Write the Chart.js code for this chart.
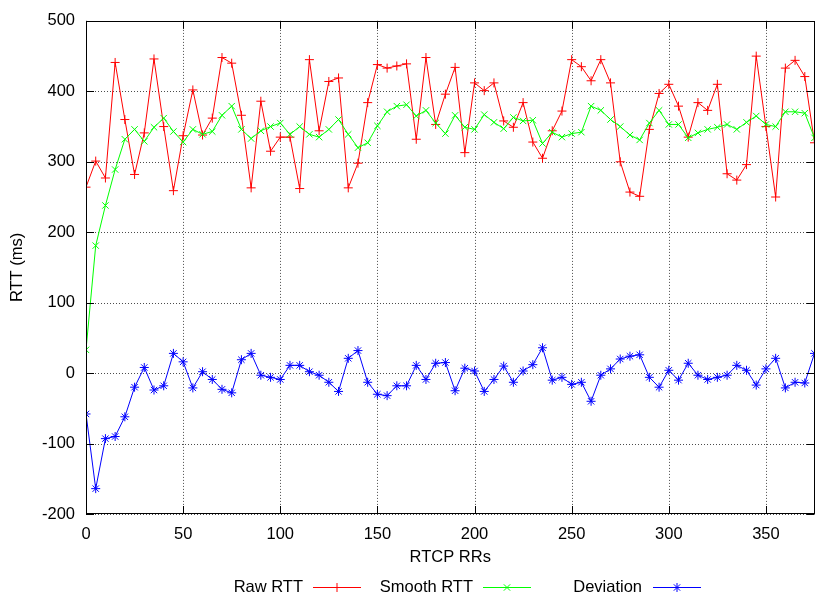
<!DOCTYPE html>
<html>
<head>
<meta charset="utf-8">
<script src="https://cdn.jsdelivr.net/npm/chart.js@4.4.1/dist/chart.umd.min.js"></script>
<style>
  html, body { margin: 0; padding: 0; background: #fff; }
  #wrap { width: 820px; height: 596px; }
</style>
</head>
<body>
<div id="wrap"><canvas id="rttChart" width="820" height="596"></canvas></div>
<script>
// RTCP RR sample index (x axis)
const rrIndex = [
  0, 5, 10, 15, 20, 25, 30, 35, 40, 45, 50, 55, 60, 65, 70, 75, 80, 85, 90, 95,
  100, 105, 110, 115, 120, 125, 130, 135, 140, 145, 150, 155, 160, 165, 170, 175, 180, 185, 190, 195,
  200, 205, 210, 215, 220, 225, 230, 235, 240, 245, 250, 255, 260, 265, 270, 275, 280, 285, 290, 295,
  300, 305, 310, 315, 320, 325, 330, 335, 340, 345, 350, 355, 360, 365, 370, 375
];

const rawRtt = [
  264, 301, 277, 441, 360, 282, 341, 446, 350, 259, 337, 402, 338, 362, 448, 440, 366, 263, 386, 315,
  335, 335, 262, 445, 344, 414, 419, 263, 298, 384, 438, 433, 436, 439, 332, 448, 353, 396, 434, 313,
  412, 401, 412, 358, 349, 384, 328, 305, 344, 372, 445, 435, 415, 445, 412, 300, 257, 251, 346, 397,
  410, 379, 335, 384, 373, 410, 283, 274, 296, 450, 350, 250, 433, 444, 421, 327
];

const smoothRtt = [
  33, 181, 238, 289, 332, 346, 329, 349, 362, 343, 328, 346, 339, 343, 366, 379, 346, 333, 344, 350,
  355, 339, 350, 339, 335, 346, 360, 339, 320, 327, 351, 371, 379, 381, 365, 373, 355, 340, 366, 349,
  346, 367, 356, 347, 363, 358, 359, 326, 342, 335, 340, 342, 379, 373, 360, 350, 338, 331, 355, 373,
  353, 353, 334, 341, 346, 349, 353, 346, 356, 365, 353, 350, 371, 371, 369, 334
];

const deviation = [
  -58, -164, -93, -90, -62, -20, 8, -24, -18, 28, 16, -21, 2, -9, -23, -28, 19, 28, -3, -6,
  -9, 11, 11, 2, -3, -13, -26, 21, 32, -13, -30, -32, -18, -18, 11, -9, 14, 15, -25, 7,
  3, -26, -9, 10, -13, 3, 12, 36, -10, -6, -16, -13, -40, -3, 6, 20, 24, 26, -6, -20,
  4, -10, 14, -3, -9, -6, -3, 11, 4, -17, 6, 21, -21, -13, -14, 28
];

const xTicks = [0, 50, 100, 150, 200, 250, 300, 350];
const yTicks = [-200, -100, 0, 100, 200, 300, 400, 500];

const FONT = { family: '"Liberation Sans", Arial, Helvetica, sans-serif', size: 16.5 };

function toPoints(values) {
  return values.map((v, i) => ({ x: rrIndex[i], y: v }));
}

// dotted grid (gnuplot lt 0) under the data
const dottedGrid = {
  id: 'dottedGrid',
  beforeDatasetsDraw(chart) {
    const { ctx, chartArea: a, scales } = chart;
    ctx.save();
    ctx.strokeStyle = 'rgba(0,0,0,0.7)';
    ctx.lineWidth = 1;
    ctx.setLineDash([1, 2]);
    ctx.beginPath();
    xTicks.forEach((v) => {
      const px = Math.round(scales.x.getPixelForValue(v)) + 0.5;
      ctx.moveTo(px, a.top);
      ctx.lineTo(px, a.bottom);
    });
    yTicks.forEach((v) => {
      const py = Math.round(scales.y.getPixelForValue(v)) + 0.5;
      ctx.moveTo(a.left, py);
      ctx.lineTo(a.right, py);
    });
    ctx.stroke();
    ctx.restore();
  },
};

// gnuplot style frame with inward ticks on all four sides
const framePlugin = {
  id: 'frame',
  afterDatasetsDraw(chart) {
    const { ctx, chartArea: a, scales } = chart;
    const tick = 8;
    ctx.save();
    ctx.strokeStyle = '#000';
    ctx.lineWidth = 1;
    ctx.beginPath();
    xTicks.forEach((v) => {
      const px = Math.round(scales.x.getPixelForValue(v)) + 0.5;
      ctx.moveTo(px, a.bottom);
      ctx.lineTo(px, a.bottom - tick);
      ctx.moveTo(px, a.top);
      ctx.lineTo(px, a.top + tick);
    });
    yTicks.forEach((v) => {
      const py = Math.round(scales.y.getPixelForValue(v)) + 0.5;
      ctx.moveTo(a.left, py);
      ctx.lineTo(a.left + tick, py);
      ctx.moveTo(a.right, py);
      ctx.lineTo(a.right - tick, py);
    });
    ctx.stroke();
    ctx.strokeRect(Math.round(a.left) + 0.5, Math.round(a.top) + 0.5,
      Math.round(a.right - a.left) - 1, Math.round(a.bottom - a.top) - 1);
    ctx.restore();
  },
};

// key below the plot: label first, then line sample with marker
const keyPlugin = {
  id: 'bottomKey',
  afterDraw(chart) {
    const { ctx } = chart;
    const y = 587;
    const slots = [
      { textEnd: 303, lineStart: 313 },
      { textEnd: 473, lineStart: 483 },
      { textEnd: 642, lineStart: 653 },
    ];
    ctx.save();
    ctx.font = `${FONT.size}px ${FONT.family}`;
    ctx.textAlign = 'right';
    ctx.textBaseline = 'middle';
    chart.data.datasets.forEach((ds, i) => {
      const s = slots[i];
      ctx.fillStyle = '#000';
      ctx.fillText(ds.label, s.textEnd, y);
      ctx.strokeStyle = ds.borderColor;
      ctx.lineWidth = 1;
      ctx.beginPath();
      ctx.moveTo(s.lineStart, y + 0.5);
      ctx.lineTo(s.lineStart + 48, y + 0.5);
      ctx.stroke();
      Chart.helpers.drawPoint(ctx, {
        pointStyle: ds.pointStyle,
        radius: ds.pointRadius,
        borderWidth: 1,
        rotation: 0,
      }, s.lineStart + 24, y + 0.5);
    });
    ctx.restore();
  },
};

new Chart(document.getElementById('rttChart'), {
  type: 'line',
  data: {
    datasets: [
      {
        label: 'Raw RTT', data: toPoints(rawRtt), order: 3,
        borderColor: '#ff0000', backgroundColor: '#ff0000', pointStyle: 'cross',
      },
      {
        label: 'Smooth RTT', data: toPoints(smoothRtt), order: 2,
        borderColor: '#00ff00', backgroundColor: '#00ff00', pointStyle: 'crossRot',
      },
      {
        label: 'Deviation', data: toPoints(deviation), order: 1,
        borderColor: '#0000ff', backgroundColor: '#0000ff', pointStyle: 'star',
      },
    ].map((ds) => Object.assign({
      borderWidth: 1,
      tension: 0,
      pointRadius: 4.5,
      pointBorderWidth: 1,
      pointBorderColor: ds.borderColor,
      pointHoverRadius: 4.5,
    }, ds)),
  },
  options: {
    responsive: false,
    animation: false,
    devicePixelRatio: 1,
    layout: { padding: { top: 15, right: 1, bottom: 30, left: 0 } },
    plugins: {
      legend: { display: false },
      tooltip: { enabled: false },
    },
    scales: {
      x: {
        type: 'linear',
        min: 0,
        max: 375,
        afterBuildTicks: (s) => { s.ticks = xTicks.map((v) => ({ value: v })); },
        afterFit: (s) => { s.height = 52; },
        border: { display: false },
        grid: { display: false, drawTicks: false },
        ticks: { color: '#000', font: FONT, padding: 11, maxRotation: 0 },
        title: { display: true, text: 'RTCP RRs', color: '#000', font: FONT, padding: { top: 0, bottom: -1 } },
      },
      y: {
        min: -200,
        max: 500,
        afterBuildTicks: (s) => { s.ticks = yTicks.map((v) => ({ value: v })); },
        afterFit: (s) => { s.width = 86; },
        border: { display: false },
        grid: { display: false, drawTicks: false },
        ticks: { color: '#000', font: FONT, padding: 11 },
        title: { display: true, text: 'RTT (ms)', color: '#000', font: FONT, padding: { top: 8, bottom: 0 } },
      },
    },
  },
  plugins: [dottedGrid, framePlugin, keyPlugin],
});
</script>
</body>
</html>
